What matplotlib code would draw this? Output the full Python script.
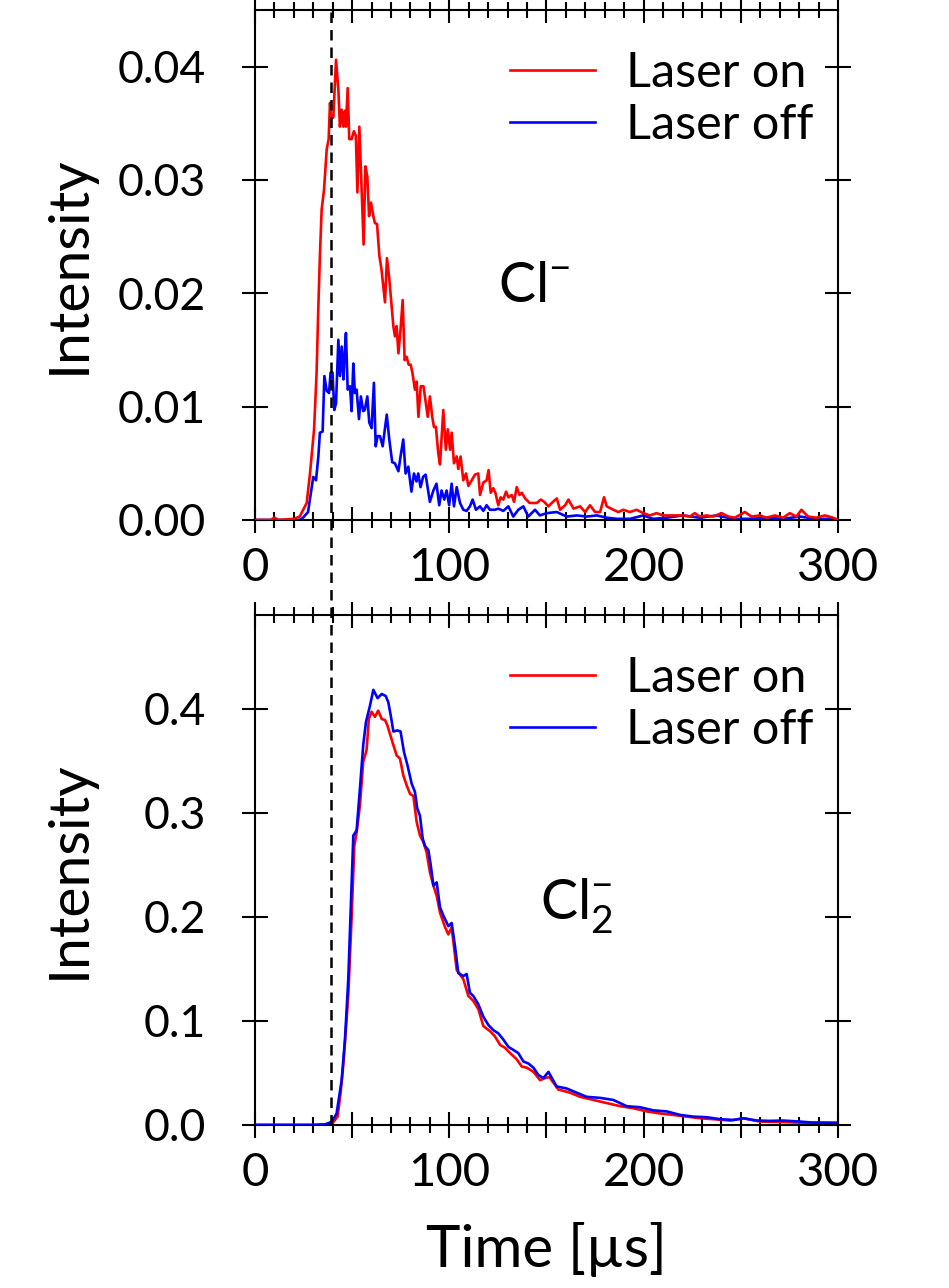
import matplotlib
matplotlib.use("Agg")
import matplotlib.pyplot as plt
from matplotlib.ticker import MultipleLocator, FuncFormatter
from matplotlib.lines import Line2D
from matplotlib.transforms import blended_transform_factory

# (time [us], intensity)
CL_ON = [
    (0, 0), (8, 0), (10, 0.0002), (12, 0), (20, 0.0001), (23, 0.0003), (26.6, 0.0015),
    (28.3, 0.0041), (30.4, 0.008), (31.7, 0.013), (32.6, 0.0188), (33.4, 0.0233),
    (34.3, 0.0274), (35.5, 0.0291), (36.9, 0.0327), (37.9, 0.0336), (38.6, 0.0368),
    (39.1, 0.0355), (40.3, 0.0355), (41.7, 0.0406), (42.9, 0.038), (43.7, 0.0347),
    (44.6, 0.0362), (45.5, 0.0347), (46.3, 0.0361), (46.8, 0.0347), (47.7, 0.0381),
    (48.5, 0.0336), (49.7, 0.0336), (50.9, 0.0343), (51.9, 0.0339), (52.7, 0.0289),
    (53.7, 0.0347), (54.9, 0.0291), (55.9, 0.0243), (56.8, 0.0312), (57.8, 0.0303),
    (58.7, 0.0268), (59.7, 0.028), (60.9, 0.0268), (61.7, 0.0262), (62.8, 0.0261),
    (64.0, 0.0233), (65.1, 0.0221), (66.9, 0.0192), (67.9, 0.0231), (69.1, 0.0213),
    (70.3, 0.0189), (71.2, 0.0171), (72.0, 0.0162), (72.9, 0.0171), (73.8, 0.0147),
    (74.9, 0.0168), (76.0, 0.0194), (77.0, 0.0141), (78.0, 0.0144), (79.1, 0.0137),
    (80.1, 0.0137), (81.0, 0.013), (82.3, 0.0115), (83.2, 0.0122), (84.1, 0.0091),
    (85.3, 0.0118), (86.7, 0.0118), (87.5, 0.0108), (88.9, 0.0091), (90.0, 0.0109),
    (91.2, 0.0091), (92.1, 0.0082), (93.1, 0.0082), (94.3, 0.0059), (95.2, 0.0049),
    (96.9, 0.0097), (98.2, 0.0062), (99.2, 0.008), (100.4, 0.0062), (101.2, 0.0077),
    (102.4, 0.005), (103.8, 0.0056), (104.6, 0.0045), (105.8, 0.0056), (107.2, 0.0035),
    (108.6, 0.0041), (109.8, 0.003), (111.5, 0.0035), (113.2, 0.004), (114.9, 0.0041),
    (115.8, 0.0022), (117.5, 0.0033), (119.2, 0.0035), (120.2, 0.0044), (121.3, 0.0024),
    (122.6, 0.0028), (123.7, 0.0024), (125.2, 0.0013), (126.4, 0.002), (127.8, 0.0018),
    (129.2, 0.0025), (130.4, 0.002), (132.1, 0.0022), (133.3, 0.0016), (134.7, 0.0029),
    (136.1, 0.0022), (137.3, 0.0024), (139.0, 0.0019), (141.3, 0.0015), (143.3, 0.0015),
    (145.0, 0.0015), (147.1, 0.0018), (148.8, 0.0016), (151.0, 0.0012), (152.7, 0.0015),
    (155.3, 0.0019), (157.0, 0.0009), (159.6, 0.0013), (161.3, 0.0018), (163.9, 0.001),
    (167.3, 0.0012), (169.9, 0.0007), (172.4, 0.0013), (175.0, 0.0007), (177.6, 0.0007),
    (179.6, 0.002), (181.0, 0.0012), (184.4, 0.0009), (187.0, 0.0007), (189.5, 0.0009),
    (192.9, 0.0007), (196.4, 0.0009), (199.8, 0.0006), (203.2, 0.0004), (206.6, 0.0006),
    (210.0, 0.0004), (213.5, 0.0004), (216.9, 0.0004), (220.3, 0.0004), (223.8, 0.0003),
    (226.3, 0.0006), (228.9, 0.0003), (232.4, 0.0004), (235.8, 0.0003), (240.1, 0.0006),
    (243.5, 0.0003), (246.9, 0.0002), (252.1, 0.0007), (255.5, 0.0003), (259.8, 0.0004),
    (263.2, 0.0002), (267.5, 0.0004), (271.8, 0.0002), (275.2, 0.0006), (278.6, 0.0003),
    (281.2, 0.0009), (284.6, 0.0003), (288.9, 0.0002), (293.2, 0.0004), (297.5, 0.0002),
    (300, 0.0),
]

CL_OFF = [
    (0, 0), (20, 0), (23, 0), (24.7, 0.0002), (27.3, 0.0007), (29.2, 0.0029), (30, 0.0038),
    (31.4, 0.0035), (32.6, 0.0056), (33.4, 0.0077), (34.8, 0.0078), (35.7, 0.0127),
    (36.9, 0.0114), (38.1, 0.0112), (38.9, 0.013), (39.9, 0.013), (40.8, 0.0097),
    (41.7, 0.0103), (42.9, 0.0159), (43.7, 0.0127), (44.6, 0.0153), (45.5, 0.0124),
    (46.0, 0.0142), (46.8, 0.0165), (47.7, 0.0115), (48.9, 0.0118), (49.7, 0.0096),
    (50.6, 0.0138), (51.4, 0.0112), (52.3, 0.0115), (53.5, 0.0089), (54.5, 0.0109),
    (55.7, 0.0096), (56.5, 0.0097), (57.8, 0.0109), (58.8, 0.0086), (60.0, 0.0081),
    (61.2, 0.0121), (62.1, 0.0065), (63.1, 0.0074), (64.3, 0.0074), (65.7, 0.0065),
    (67.8, 0.0093), (69.1, 0.0071), (70.6, 0.0051), (72.0, 0.005), (73.8, 0.0043),
    (74.9, 0.0056), (76.3, 0.0071), (77.5, 0.0041), (78.9, 0.0047), (80.5, 0.0025),
    (81.8, 0.0041), (83.1, 0.0034), (84.0, 0.0041), (85.2, 0.0029), (86.5, 0.0038),
    (87.8, 0.004), (88.9, 0.0028), (90.0, 0.0016), (91.8, 0.0026), (93.4, 0.0032),
    (94.8, 0.0013), (96.0, 0.0026), (97.4, 0.0018), (98.6, 0.0026), (99.9, 0.0013),
    (101.2, 0.0032), (102.4, 0.0012), (103.8, 0.0029), (105.5, 0.0015), (107.2, 0.0009),
    (108.9, 0.0008), (110.6, 0.0012), (112.0, 0.0018), (113.7, 0.0009), (115.8, 0.0012),
    (117.5, 0.0008), (119.2, 0.0013), (120.9, 0.0009), (123.5, 0.0009), (125.2, 0.001),
    (127.8, 0.0008), (130.4, 0.0012), (132.9, 0.0003), (135.5, 0.0009), (138.1, 0.0012),
    (140.6, 0.0003), (144.1, 0.0009), (146.6, 0.0004), (150.0, 0.0006), (155.3, 0.0007),
    (160.4, 0.0003), (165.6, 0.0004), (170.7, 0.0003), (175.9, 0.0004), (181.0, 0.0002),
    (186.2, 0.0001), (193.0, 0.0001), (199.8, 0.0004), (205.0, 0.0001), (211.8, 0.0002),
    (220.3, 0.0004), (228.9, 0.0002), (237.5, 0.0004), (246.1, 0.0001), (254.6, 0.0001),
    (263.2, 0.0002), (271.8, 0.0001), (280.3, 0.0003), (288.9, 0.0001), (297.5, 0.0001),
    (300, 0),
]

CL2_ON = [
    (0, 0), (30, 0), (37, 0.0005), (40, 0.002), (42.5, 0.008), (44, 0.03), (45.5, 0.059),
    (48, 0.124), (49.7, 0.198), (51.1, 0.268), (52.3, 0.281), (54, 0.307), (55.7, 0.349),
    (57.4, 0.36), (58.6, 0.39), (60, 0.397), (61.7, 0.392), (63.4, 0.398), (65.2, 0.39),
    (66.9, 0.389), (68.1, 0.384), (69.4, 0.376), (71.2, 0.365), (72.9, 0.355), (74.6, 0.352),
    (76.3, 0.336), (78.1, 0.326), (79.8, 0.318), (81.5, 0.316), (83.2, 0.291), (84.9, 0.278),
    (86.6, 0.272), (88.3, 0.262), (90, 0.243), (91.8, 0.23), (93.5, 0.22), (95.2, 0.204),
    (97.8, 0.19), (99.5, 0.183), (101.2, 0.19), (103.8, 0.149), (107.2, 0.14), (109.8, 0.124),
    (112.4, 0.119), (115, 0.111), (117.5, 0.095), (121, 0.09), (123.5, 0.085), (126.1, 0.077),
    (128.7, 0.074), (131.3, 0.069), (134.7, 0.063), (137.3, 0.056), (139.9, 0.055),
    (143.3, 0.051), (146.7, 0.043), (149.3, 0.045), (151.5, 0.046), (156.1, 0.034),
    (162.1, 0.031), (167.3, 0.027), (174.2, 0.024), (181, 0.021), (187.9, 0.018),
    (194.8, 0.016), (201.6, 0.013), (208.5, 0.011), (215.3, 0.0096), (222.2, 0.008),
    (229.1, 0.0064), (236, 0.0055), (244.6, 0.0042), (251.4, 0.0064), (260, 0.0032),
    (270.3, 0.0029), (280.6, 0.0022), (290.9, 0.0022), (300, 0.0016),
]

CL2_OFF = [
    (0, 0), (30, 0), (36, 0.0005), (39.5, 0.003), (42, 0.011), (44.6, 0.043), (46.3, 0.082),
    (48, 0.14), (49.2, 0.204), (50.6, 0.278), (52.3, 0.283), (54, 0.323), (55.7, 0.365),
    (57.1, 0.387), (59.2, 0.403), (60.9, 0.418), (63.1, 0.41), (65.2, 0.414), (67.3, 0.412),
    (68.6, 0.406), (69.8, 0.394), (71.2, 0.378), (73.2, 0.379), (74.9, 0.378), (76.7, 0.358),
    (78.4, 0.346), (80.6, 0.328), (82.3, 0.32), (83.5, 0.304), (84.9, 0.297), (86.3, 0.275),
    (87.5, 0.268), (89.2, 0.264), (90.4, 0.25), (91.8, 0.23), (93.5, 0.233), (95.2, 0.209),
    (97.2, 0.2), (99.5, 0.191), (101.2, 0.194), (102.9, 0.172), (104.6, 0.146), (107.2, 0.143),
    (108.9, 0.145), (110.6, 0.127), (112.3, 0.124), (114.9, 0.116), (117.5, 0.104),
    (120.1, 0.096), (122.7, 0.091), (125.2, 0.088), (127.8, 0.082), (130.4, 0.075),
    (133, 0.072), (135.5, 0.069), (138.1, 0.061), (140.7, 0.059), (143.3, 0.055),
    (145.8, 0.048), (148.4, 0.045), (151, 0.051), (155.2, 0.037), (160.4, 0.035),
    (165.5, 0.031), (170.7, 0.027), (177.6, 0.026), (184.4, 0.024), (191.3, 0.018),
    (198.2, 0.017), (205, 0.014), (211.9, 0.013), (218.8, 0.0096), (225.6, 0.008),
    (232.5, 0.0074), (239.4, 0.0055), (246.3, 0.0048), (251.4, 0.0064), (258.3, 0.0042),
    (265.1, 0.0039), (272, 0.0042), (280.6, 0.0032), (287.5, 0.0022), (294.3, 0.0022),
    (300, 0.0022),
]

LABELS = ["Laser on", "Laser off"]
T_START = 39.3   # dashed marker [us]

plt.rcParams["font.family"] = ["Lato", "DejaVu Sans"]
plt.rcParams["mathtext.fontset"] = "custom"
plt.rcParams["mathtext.rm"] = "Lato"
plt.rcParams["mathtext.it"] = "Lato"

fig = plt.figure(figsize=(9.49, 12.88), dpi=100)
ax1 = fig.add_axes([0.2687, 0.5963, 0.6143, 0.396])
ax2 = fig.add_axes([0.2687, 0.1266, 0.6143, 0.396])


def unzip(data):
    return [p[0] for p in data], [p[1] for p in data]


def style(ax, ymax, ystep, yfmt):
    ax.set_xlim(0, 300)
    ax.set_ylim(0, ymax)
    ax.xaxis.set_major_locator(MultipleLocator(50))
    ax.xaxis.set_minor_locator(MultipleLocator(10))
    ax.xaxis.set_major_formatter(FuncFormatter(lambda v, p: f"{v:.0f}" if v % 100 == 0 else ""))
    ax.yaxis.set_major_locator(MultipleLocator(ystep))
    ax.yaxis.set_major_formatter(FuncFormatter(lambda v, p: yfmt.format(v)))
    ax.tick_params(which="both", direction="inout", top=True, right=True,
                   width=1.5, labelsize=34)
    ax.tick_params(axis="y", labelsize=32)
    ax.tick_params(which="major", length=19)
    ax.tick_params(axis="y", which="major", pad=26)
    ax.tick_params(axis="x", which="major", pad=10)
    ax.tick_params(which="minor", length=11)
    ax.tick_params(axis="y", which="minor", left=False, right=False)
    for s in ax.spines.values():
        s.set_linewidth(1.5)
    ax.set_ylabel("Intensity", fontsize=41)
    ax.yaxis.set_label_coords(-0.275, 0.5)


t, v = unzip(CL_ON)
ax1.plot(t, v, color="red", lw=1.9, label=LABELS[0], zorder=3)
t, v = unzip(CL_OFF)
ax1.plot(t, v, color="blue", lw=1.9, label=LABELS[1], zorder=2)
style(ax1, 0.045, 0.01, "{:.2f}")
ax1.text(125, 0.0192, r"Cl$^{-}$", fontsize=40)

t, v = unzip(CL2_ON)
ax2.plot(t, v, color="red", lw=1.9, label=LABELS[0], zorder=2)
t, v = unzip(CL2_OFF)
ax2.plot(t, v, color="blue", lw=1.9, label=LABELS[1], zorder=3)
style(ax2, 0.49, 0.1, "{:.1f}")
ax2.text(146.7, 0.1976, r"Cl$_{2}^{-}$", fontsize=40)
ax2.set_xlabel("Time [µs]", fontsize=42)
ax2.xaxis.set_label_coords(0.5, -0.19)

for ax in (ax1, ax2):
    ax.legend(loc="upper right", frameon=False, fontsize=35, handlelength=1.75,
              handletextpad=0.65, labelspacing=0.17, borderaxespad=0.0,
              bbox_to_anchor=(0.992, 0.958))

# dashed marker running through both panels
tr = blended_transform_factory(ax2.transData, fig.transFigure)
fig.add_artist(Line2D([T_START, T_START], [0.1266, 0.9922], transform=tr,
                      color="black", lw=1.8, dashes=(4.2, 2.8), zorder=5))

fig.savefig("out.png", dpi=100)
